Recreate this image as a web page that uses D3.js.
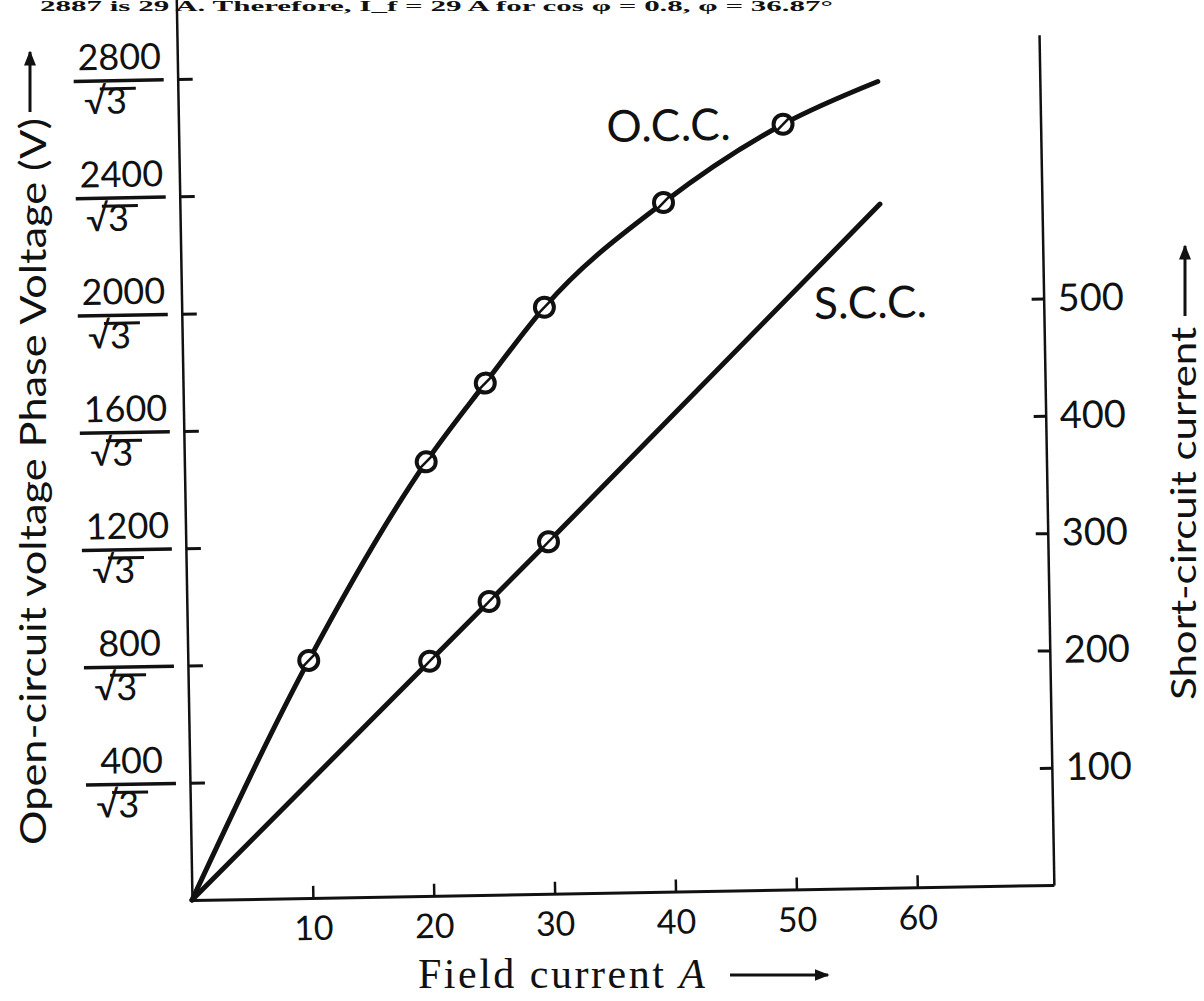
<!DOCTYPE html>
<meta charset="utf-8">
<style>
  body { margin: 0; background: #fff; }
  svg { display: block; }
</style>
<body>
<script src="https://d3js.org/d3.v7.min.js"></script>
<script>
  // Marked test points of the open-circuit curve: field current (A), line voltage (V)
  var occField = [10, 20, 25, 30, 40, 50];
  var occVolt = [810, 1480, 1745, 2000, 2350, 2610];
  // start and end of the drawn O.C.C. line
  var occStart = [0, 0];
  var occEnd = [57.9, 2750];

  // Marked test points of the short-circuit curve: field current (A), current (A)
  var sccField = [20, 25, 30];
  var sccAmp = [200, 250, 300];
  var sccStart = [0, 0];
  var sccEnd = [57.9, 583];

  // tick labels
  var fieldTicks = [10, 20, 30, 40, 50, 60];
  var voltTicks = [400, 800, 1200, 1600, 2000, 2400, 2800];
  var ampTicks = [100, 200, 300, 400, 500];

  var ink = "#111";
  var tickFont = "Lato, 'DejaVu Sans', sans-serif";

  var svg = d3.select("body").append("svg")
      .attr("width", 1204)
      .attr("height", 1001);

  // line of book text at the very top of the scan (mostly cut off there)
  svg.append("text")
      .attr("x", 40).attr("y", 11)
      .attr("textLength", 793)
      .attr("lengthAdjust", "spacingAndGlyphs")
      .style("font-family", "'Liberation Serif', serif")
      .style("font-weight", "bold")
      .style("font-size", "14px")
      .attr("fill", ink)
      .text("2887 is 29 A. Therefore, I_f = 29 A for cos φ = 0.8, φ = 36.87°");

  // scales (the scan is slightly turned, so the plot group gets a small rotation)
  var x = d3.scaleLinear().domain([0, 71.3]).range([0, 862]);
  var yV = d3.scaleLinear().domain([0, 3100]).range([0, -909]);
  // 100 A on the right axis lines up with 400 V on the left one
  var yA = d3.scaleLinear().domain([0, 725]).range([0, yV(2900)]);

  var g = svg.append("g")
      .attr("transform", "translate(192,900) rotate(-1)");

  // x axis
  var xAxis = g.append("g")
      .call(d3.axisBottom(x).tickValues(fieldTicks).tickSize(-12).tickSizeOuter(0).tickPadding(18))
      .attr("font-size", 34)
      .attr("font-family", tickFont);
  xAxis.select(".domain").attr("stroke", ink).attr("stroke-width", 3);
  xAxis.selectAll(".tick line").attr("stroke", ink).attr("stroke-width", 2.5);
  xAxis.selectAll(".tick text").attr("fill", ink);

  // left axis with fraction labels  n / √3
  var leftAxis = g.append("g")
      .call(d3.axisLeft(yV).tickValues(voltTicks).tickSize(-15).tickSizeOuter(0).tickFormat(d3.format("d")))
      .attr("font-size", 36)
      .attr("font-family", tickFont);
  leftAxis.select(".domain").attr("stroke", ink).attr("stroke-width", 2.5);
  leftAxis.selectAll(".tick line").attr("stroke", ink).attr("stroke-width", 3);
  leftAxis.selectAll(".tick").each(function(d) {
    var t = d3.select(this);
    t.select("text")
        .attr("x", -58).attr("y", -11).attr("dy", null)
        .attr("text-anchor", "middle")
        .attr("fill", ink);
    t.append("line")
        .attr("x1", -104).attr("x2", -14)
        .attr("stroke", ink).attr("stroke-width", 3.5);
    t.append("text")
        .attr("x", -94).attr("y", 33)
        .attr("text-anchor", "start")
        .attr("fill", ink)
        .text("√");
    t.append("text")
        .attr("x", -72).attr("y", 33)
        .attr("text-anchor", "start")
        .attr("fill", ink)
        .text("3");
    t.append("line")
        .attr("x1", -78).attr("x2", -42)
        .attr("y1", 8).attr("y2", 8)
        .attr("stroke", ink).attr("stroke-width", 3);
  });

  // right axis (short-circuit current)
  var rightAxis = g.append("g")
      .attr("transform", "translate(" + x(71.3) + ",0)")
      .call(d3.axisRight(yA).tickValues(ampTicks).tickSize(-12).tickSizeOuter(0).tickPadding(14))
      .attr("font-size", 38)
      .attr("font-family", tickFont);
  rightAxis.select(".domain").attr("stroke", ink).attr("stroke-width", 2.5);
  rightAxis.selectAll(".tick line").attr("stroke", ink).attr("stroke-width", 3);
  rightAxis.selectAll(".tick text").attr("fill", ink);

  // curves
  var occPts = [occStart].concat(occField.map(function(f, i) { return [f, occVolt[i]]; }), [occEnd]);
  var sccPts = [sccStart].concat(sccField.map(function(f, i) { return [f, sccAmp[i]]; }), [sccEnd]);

  var occLine = d3.line()
      .x(function(d) { return x(d[0]); })
      .y(function(d) { return yV(d[1]); })
      .curve(d3.curveMonotoneX);
  var sccLine = d3.line()
      .x(function(d) { return x(d[0]); })
      .y(function(d) { return yA(d[1]); });

  g.append("path")
      .attr("d", occLine(occPts))
      .attr("fill", "none").attr("stroke", ink)
      .attr("stroke-width", 5).attr("stroke-linecap", "round");
  g.append("path")
      .attr("d", sccLine(sccPts))
      .attr("fill", "none").attr("stroke", ink)
      .attr("stroke-width", 5).attr("stroke-linecap", "round");

  // test point markers
  function drawMarkers(fields, vals, yScale) {
    var m = g.selectAll(null)
        .data(fields)
      .enter().append("g")
        .attr("transform", function(d, i) { return "translate(" + x(d) + "," + yScale(vals[i]) + ")"; });
    m.append("circle")
        .attr("r", 9.5)
        .attr("fill", "#fff")
        .attr("stroke", ink).attr("stroke-width", 4);
    m.append("line")
        .attr("x1", -6).attr("y1", 6).attr("x2", 6).attr("y2", -6)
        .attr("stroke", ink).attr("stroke-width", 2.5);
  }
  drawMarkers(occField, occVolt, yV);
  drawMarkers(sccField, sccAmp, yA);

  // curve names
  g.append("text")
      .attr("x", x(35.4)).attr("y", yV(2560))
      .attr("textLength", 124)
      .attr("fill", ink)
      .style("font-family", tickFont)
      .style("font-size", "44px")
      .text("O.C.C.");
  g.append("text")
      .attr("x", x(52.3)).attr("y", yA(486))
      .attr("textLength", 113)
      .attr("fill", ink)
      .style("font-family", tickFont)
      .style("font-size", "44px")
      .text("S.C.C.");

  // arrowhead
  svg.append("defs").append("marker")
      .attr("id", "head")
      .attr("viewBox", "0 0 10 10")
      .attr("refX", 9).attr("refY", 5)
      .attr("markerWidth", 5).attr("markerHeight", 5)
      .attr("orient", "auto")
    .append("path")
      .attr("d", "M0,1 L10,5 L0,9 Z")
      .attr("fill", ink);

  // axis titles
  svg.append("text")
      .attr("transform", "translate(46,845) rotate(-90)")
      .attr("textLength", 727)
      .attr("lengthAdjust", "spacingAndGlyphs")
      .attr("fill", ink)
      .style("font-family", tickFont)
      .style("font-size", "37px")
      .text("Open-circuit voltage Phase Voltage (V)");
  svg.append("line")
      .attr("x1", 30).attr("y1", 112).attr("x2", 30).attr("y2", 52)
      .attr("stroke", ink).attr("stroke-width", 3)
      .attr("marker-end", "url(#head)");

  svg.append("text")
      .attr("transform", "translate(1196,700) rotate(-90)")
      .attr("textLength", 373)
      .attr("lengthAdjust", "spacingAndGlyphs")
      .attr("fill", ink)
      .style("font-family", tickFont)
      .style("font-size", "34px")
      .text("Short-circuit current");
  svg.append("line")
      .attr("x1", 1185).attr("y1", 316).attr("x2", 1185).attr("y2", 246)
      .attr("stroke", ink).attr("stroke-width", 3)
      .attr("marker-end", "url(#head)");

  var xt = svg.append("text")
      .attr("x", 418).attr("y", 988)
      .attr("textLength", 287)
      .attr("fill", ink)
      .style("font-family", "'Liberation Serif', serif")
      .style("font-size", "42px");
  xt.append("tspan").text("Field current ");
  xt.append("tspan").style("font-style", "italic").text("A");
  svg.append("line")
      .attr("x1", 730).attr("y1", 975).attr("x2", 828).attr("y2", 975)
      .attr("stroke", ink).attr("stroke-width", 3)
      .attr("marker-end", "url(#head)");
</script>
</body>
